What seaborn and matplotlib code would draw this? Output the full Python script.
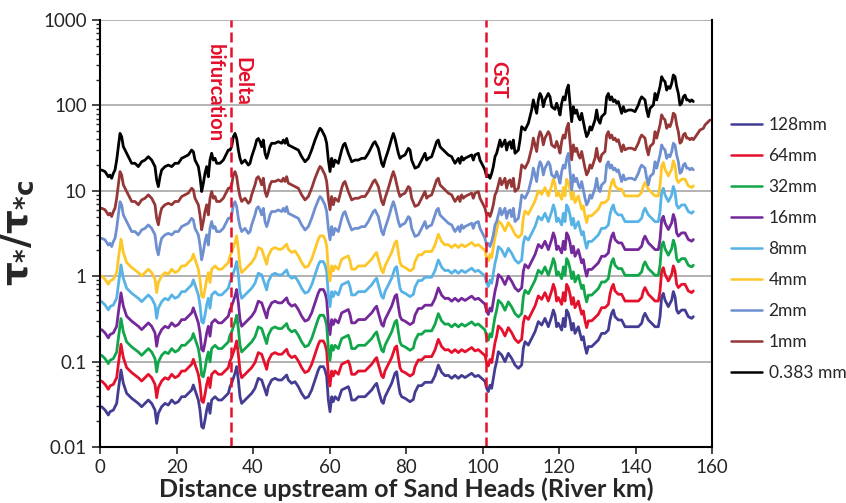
import numpy as np
import pandas as pd
import matplotlib.pyplot as plt
import seaborn as sns
from matplotlib.ticker import FixedLocator, LogLocator, NullFormatter, FuncFormatter

# 128 mm profile
km_128 = [0.44, 1.31, 2.18, 2.61, 3.49, 4.36, 4.79, 5.49, 6.10, 6.97, 8.28, 10.02, 10.89, 11.76,
          12.64, 13.51, 14.38, 14.81, 15.25, 16.12, 16.99, 17.86, 18.74, 19.61, 20.48, 21.35,
          22.22, 23.09, 23.96, 24.4, 24.84, 25.71, 26.14, 26.58, 27.01, 27.45, 27.89, 28.32,
          28.76, 29.19, 30.07, 30.94, 31.81, 32.68, 33.55, 33.99, 34.42, 35.29, 35.73, 36.17,
          36.6, 37.04, 37.91, 38.78, 39.65, 40.52, 41.39, 42.27, 43.14, 43.57, 44.0, 44.88,
          45.75, 46.62, 47.5, 48.37, 48.8, 49.24, 50.11, 50.98, 51.85, 52.72, 53.6, 54.47,
          55.34, 56.21, 57.08, 57.52, 58.39, 58.82, 59.26, 59.7, 60.13, 60.57, 61.0, 61.44,
          62.31, 63.18, 64.05, 64.92, 65.36, 65.8, 66.67, 67.54, 68.41, 69.28, 70.15, 71.02,
          71.9, 72.33, 72.77, 73.64, 74.07, 74.51, 75.38, 76.25, 77.12, 77.56, 78.0, 78.43,
          78.87, 79.74, 81.05, 81.92, 82.35, 83.22, 84.1, 84.97, 85.84, 86.71, 87.58, 88.45,
          89.32, 90.2, 91.07, 91.94, 92.81, 93.68, 94.55, 95.42, 96.3, 97.17, 98.04, 98.91,
          99.78, 100.65, 101.09, 101.52, 101.96, 102.4, 102.83, 103.27, 103.7, 104.14, 105.01,
          105.88, 106.75, 107.63, 108.5, 109.37, 110.24, 110.68, 111.11, 111.98, 112.85,
          113.73, 114.6, 115.47, 116.34, 117.21, 118.08, 118.52, 118.95, 119.39, 119.83, 120.7,
          121.13, 121.57, 122.0, 122.44, 122.88, 123.31, 123.75, 124.18, 125.05, 125.49,
          125.93, 126.36, 126.8, 127.23, 127.67, 128.54, 129.41, 130.28, 131.15, 132.03, 132.9,
          133.33, 133.77, 134.2, 134.64, 135.51, 136.38, 137.26, 138.13, 139.0, 139.87, 140.74,
          141.61, 142.05, 142.48, 143.36, 144.23, 145.1, 145.97, 146.41, 146.84, 147.28,
          147.71, 148.59, 149.46, 149.89, 150.33, 150.76, 151.2, 152.07, 152.94, 153.81,
          154.69, 155.12]
tau_128 = [0.0296, 0.0271, 0.0237, 0.0259, 0.0271, 0.0324, 0.0465, 0.0798, 0.0557, 0.0425, 0.0372,
           0.0324, 0.0296, 0.0324, 0.0355, 0.0324, 0.0271, 0.0189, 0.0248, 0.0296, 0.0324, 0.031,
           0.0355, 0.0324, 0.034, 0.0388, 0.0388, 0.0425, 0.0465, 0.0532, 0.0465, 0.0355, 0.0271,
           0.0173, 0.0166, 0.0207, 0.0271, 0.0324, 0.0248, 0.0355, 0.0388, 0.0355, 0.0355, 0.0388,
           0.0425, 0.0509, 0.0557, 0.073, 0.0873, 0.0609, 0.0388, 0.0324, 0.0355, 0.0388, 0.0425,
           0.0487, 0.0637, 0.0609, 0.0465, 0.0406, 0.0509, 0.0609, 0.0637, 0.0609, 0.0609, 0.0667,
           0.0697, 0.0609, 0.0557, 0.0582, 0.0509, 0.0425, 0.0372, 0.0388, 0.0465, 0.0609, 0.0798,
           0.0873, 0.0873, 0.0798, 0.0667, 0.0355, 0.0259, 0.0388, 0.034, 0.0388, 0.0355, 0.0465,
           0.0487, 0.0509, 0.0445, 0.0355, 0.0355, 0.0388, 0.0388, 0.0388, 0.0425, 0.0465, 0.0532,
           0.0557, 0.0465, 0.034, 0.0324, 0.0388, 0.0465, 0.0557, 0.073, 0.0762, 0.0557, 0.0425,
           0.0388, 0.0372, 0.0339, 0.036, 0.0437, 0.0523, 0.0523, 0.0572, 0.0572, 0.0572, 0.0684,
           0.0912, 0.0749, 0.0684, 0.069, 0.0637, 0.069, 0.0637, 0.069, 0.065, 0.069, 0.073,
           0.0667, 0.069, 0.0637, 0.0588, 0.0487, 0.0445, 0.053, 0.0487, 0.0637, 0.0834, 0.0998,
           0.1306, 0.1195, 0.0998, 0.125, 0.109, 0.0912, 0.0834, 0.0912, 0.143, 0.171, 0.156,
           0.187, 0.224, 0.294, 0.268, 0.321, 0.256, 0.336, 0.402, 0.352, 0.256, 0.281, 0.234,
           0.321, 0.256, 0.402, 0.368, 0.307, 0.234, 0.281, 0.214, 0.256, 0.214, 0.179, 0.196,
           0.15, 0.125, 0.15, 0.15, 0.164, 0.179, 0.214, 0.214, 0.234, 0.307, 0.368, 0.402, 0.336,
           0.307, 0.307, 0.256, 0.256, 0.256, 0.256, 0.256, 0.281, 0.336, 0.368, 0.307, 0.281,
           0.256, 0.256, 0.336, 0.575, 0.63, 0.526, 0.44, 0.526, 0.66, 0.575, 0.402, 0.368, 0.402,
           0.402, 0.336, 0.321, 0.336]

# 0.383 mm (sand) profile
km_sand = [0.44, 1.31, 2.18, 2.61, 3.05, 3.49, 3.92, 4.36, 4.79, 5.23, 5.66, 6.1, 6.54, 7.41, 8.28,
           9.15, 10.02, 10.89, 11.76, 12.64, 13.51, 14.38, 14.81, 15.25, 15.69, 16.12, 16.99,
           17.86, 18.74, 19.61, 20.48, 21.35, 22.22, 23.09, 23.96, 24.4, 24.84, 25.71, 26.14,
           26.58, 27.01, 27.45, 27.89, 28.32, 28.76, 29.19, 29.63, 30.07, 30.5, 31.37, 32.24,
           33.12, 33.55, 33.99, 34.42, 34.86, 35.29, 35.73, 36.17, 36.6, 37.04, 37.91, 38.78,
           39.22, 39.65, 40.52, 40.96, 41.39, 41.83, 42.27, 42.7, 43.14, 43.57, 44.0, 44.44,
           44.88, 45.75, 46.62, 47.5, 47.93, 48.37, 48.8, 49.24, 50.11, 50.98, 51.85, 52.72,
           53.6, 54.47, 55.34, 56.21, 57.08, 57.52, 57.95, 58.39, 58.82, 59.26, 59.7, 60.13,
           60.57, 61.0, 61.44, 62.31, 63.18, 63.62, 64.05, 64.92, 65.8, 66.67, 67.54, 68.41,
           69.28, 70.15, 71.02, 71.46, 71.9, 72.77, 73.64, 74.07, 74.51, 75.38, 76.25, 76.69,
           77.12, 78.0, 78.43, 78.87, 79.74, 80.61, 81.05, 81.48, 82.35, 83.22, 84.1, 84.53,
           84.97, 85.4, 85.84, 86.71, 87.58, 88.02, 88.45, 88.89, 89.32, 90.2, 91.07, 91.94,
           92.37, 92.81, 93.68, 94.12, 94.55, 94.99, 95.42, 96.3, 97.17, 97.6, 98.04, 98.91,
           99.35, 99.78, 100.22, 100.65, 101.09, 101.52, 101.96, 102.4, 102.83, 103.27, 103.7,
           104.14, 104.58, 105.01, 105.88, 106.32, 106.75, 107.19, 107.63, 108.06, 108.5,
           109.37, 109.8, 110.24, 111.11, 111.98, 112.85, 113.29, 113.73, 114.16, 114.6,
           115.03, 115.47, 115.9, 116.34, 117.21, 117.65, 118.08, 118.95, 119.39, 119.83,
           120.26, 120.7, 121.13, 121.57, 122.0, 122.44, 122.88, 123.31, 123.75, 124.18,
           124.62, 125.05, 125.49, 125.93, 126.8, 127.23, 127.67, 128.1, 128.54, 128.98,
           129.41, 129.85, 130.28, 130.72, 131.15, 132.03, 132.46, 132.9, 133.33, 133.77,
           134.2, 134.64, 135.08, 135.51, 136.38, 136.82, 137.26, 138.13, 139.0, 139.87,
           140.31, 140.74, 141.18, 141.61, 142.05, 142.48, 142.92, 143.36, 143.79, 144.23,
           144.67, 145.1, 145.54, 145.97, 146.41, 146.84, 147.28, 147.71, 148.15, 148.59,
           149.02, 149.46, 149.89, 150.33, 150.76, 151.2, 151.63, 152.07, 152.5, 152.94,
           153.38, 153.81, 154.25, 154.69, 155.12]
tau_sand = [17.5, 16.8, 14.6, 15.3, 14.0, 16.0, 17.5, 22.9, 32.9, 47, 43, 32.9, 30, 25.1, 21, 21,
            19.2, 21.9, 22.9, 25.1, 22.9, 19.2, 13.4, 11.2, 14.6, 17.5, 19.2, 20, 19.2, 21, 21,
            24, 25.1, 26.3, 30, 28.7, 22.9, 19.2, 14.6, 9.8, 12.2, 16, 19.2, 14.6, 22.9, 27.5,
            22.9, 24, 21, 21, 22.9, 27.5, 30, 30, 32.9, 43, 47, 41, 30, 24, 21, 22.9, 20, 21,
            25.1, 32.9, 39.3, 41, 37.6, 32.9, 39.3, 27.5, 24, 27.5, 32.9, 36, 36, 37.6, 36, 39.3,
            36, 41, 34.4, 32.9, 31.4, 30, 25.1, 21.9, 24, 30, 39.3, 49.2, 54, 51.5, 47, 43, 36,
            22.9, 16.8, 24, 19.2, 22.9, 21, 30, 34.4, 36, 27.5, 21.9, 22.9, 22.9, 24, 24, 27.5,
            32.9, 36, 37.6, 31.4, 21, 19.2, 22.9, 30, 41, 47, 41, 27.5, 24, 25.1, 26.3, 31.4, 30,
            22.9, 18.4, 19.2, 22.9, 25.1, 27.5, 22.9, 24, 25.1, 32.9, 37.6, 39.3, 32.9, 31.4,
            28.7, 26.3, 25.1, 22.9, 21, 24, 21, 25.1, 22.9, 24, 25.1, 26.3, 22.9, 26.3, 27.5,
            22.9, 21, 19.2, 17.5, 14.6, 15.3, 14, 16, 19.2, 25.1, 27.5, 32.9, 39.3, 32.9, 39.3,
            30, 36, 37.6, 31.4, 39.3, 27.5, 30, 39.3, 56.3, 51.5, 61.7, 88.3, 116, 96.6, 80.8,
            116, 138, 126, 96.6, 116, 138, 126, 96.6, 90, 106, 92.4, 77.2, 106, 126, 116, 151,
            173, 106, 64.5, 96.6, 80.8, 88.3, 73.8, 67.5, 80.8, 51.5, 43, 47, 56.3, 51.5, 59,
            67.5, 88.3, 67.5, 61.7, 73.8, 80.8, 126, 138, 116, 126, 111, 116, 106, 111, 80.8,
            96.6, 84.5, 88.3, 88.3, 84.5, 92.4, 101, 116, 126, 121, 116, 88.3, 73.8, 92.4, 96.6,
            101, 138, 116, 138, 166, 217, 198, 190, 151, 166, 158, 181, 227, 217, 166, 138, 101,
            106, 126, 132, 116, 116, 111, 116, 111]

# extra upstream reach drawn only for 1 mm
km_tail_1mm = [155.99, 156.86, 157.74, 158.17, 159.04, 159.48]
tau_tail_1mm = [45, 51.5, 53.8, 59, 64.5, 67.5]

# multipliers
coarse_sizes = ['128mm', '64mm', '32mm', '16mm', '8mm', '4mm']
coarse_factor = [1, 2, 4, 8, 17, 34]
fine_sizes = ['2mm', '1mm', '0.383 mm']
fine_factor = [1 / 6.3, 1 / 2.8, 1]

legend_order = ['128mm', '64mm', '32mm', '16mm', '8mm', '4mm', '2mm', '1mm', '0.383 mm']
colors = ['#433C93', '#E5102B', '#11A64A', '#74289A', '#57B3E6', '#FDC72A',
          '#6E8FD0', '#953736', '#000000']

frames = []
for s, f in zip(coarse_sizes, coarse_factor):
    frames.append(pd.DataFrame({'km': km_128, 'tau': np.array(tau_128) * f, 'size': s}))
for s, f in zip(fine_sizes, fine_factor):
    x = list(km_sand)
    y = list(np.array(tau_sand) * f)
    if s == '1mm':
        x += km_tail_1mm
        y += tau_tail_1mm
    frames.append(pd.DataFrame({'km': x, 'tau': y, 'size': s}))
df = pd.concat(frames, ignore_index=True)

sns.set_style('white')
plt.rcParams['font.family'] = ['Lato', 'DejaVu Sans']
plt.rcParams['mathtext.fontset'] = 'custom'
plt.rcParams['mathtext.rm'] = 'DejaVu Sans:bold'
plt.rcParams['mathtext.it'] = 'DejaVu Sans:bold'
plt.rcParams['mathtext.bf'] = 'DejaVu Sans:bold'

fig = plt.figure(figsize=(8.46, 5.03), dpi=100)
ax = fig.add_axes([100 / 846, 56 / 503, 612 / 846, 427 / 503])

sns.lineplot(data=df, x='km', y='tau', hue='size', hue_order=legend_order,
             palette=dict(zip(legend_order, colors)), estimator=None, sort=False,
             linewidth=2.0, ax=ax)

ax.set_yscale('log')
ax.set_ylim(0.01, 1000)
ax.set_xlim(0, 160)
ax.xaxis.set_major_locator(FixedLocator(range(0, 161, 20)))
ax.yaxis.set_major_locator(FixedLocator([0.01, 0.1, 1, 10, 100, 1000]))
ax.yaxis.set_major_formatter(FuncFormatter(lambda v, p: '{:g}'.format(v)))
ax.yaxis.set_minor_locator(LogLocator(base=10, subs=np.arange(2, 10)))
ax.yaxis.set_minor_formatter(NullFormatter())
ax.grid(axis='y', which='major', color='#A6A6A6', linewidth=1.2)
ax.tick_params(axis='y', which='major', direction='out', length=6, width=1.2, left=True, labelsize=13.5)
ax.tick_params(axis='y', which='minor', direction='out', length=3, width=1, left=True)
ax.tick_params(axis='x', which='major', direction='out', length=5, width=1.2, bottom=True, labelsize=13.5)
for side in ['left', 'bottom', 'right']:
    ax.spines[side].set_color('black')
    ax.spines[side].set_linewidth(1.5)
ax.spines['top'].set_visible(False)

ax.set_xlabel('Distance upstream of Sand Heads (River km)', fontsize=18, fontweight='bold', labelpad=1)
ax.set_ylabel(r'$\tau_{*}/\tau_{*c}$', fontsize=27)
ax.yaxis.set_label_coords(-0.105, 0.5)

# reach markers
red = '#E5102B'
for xv in [34.2, 100.9]:
    ax.axvline(xv, color=red, linestyle=(0, (4, 2)), linewidth=1.8)
ax.text(37.2, 1000 * 10 ** (-37 / 85.4), 'Delta', color=red, fontsize=14.5, fontweight='bold',
        rotation=270, va='top', ha='center')
ax.text(30.0, 1000 * 10 ** (-24 / 85.4), 'bifurcation', color=red, fontsize=14.5, fontweight='bold',
        rotation=270, va='top', ha='center')
ax.text(104.0, 1000 * 10 ** (-41 / 85.4), 'GST', color=red, fontsize=14.5, fontweight='bold',
        rotation=270, va='top', ha='center')

leg = ax.legend(loc='upper left', bbox_to_anchor=(1.02, 0.79), frameon=False, fontsize=12.5,
                handlelength=1.8, handletextpad=0.35, labelspacing=0.87, borderaxespad=0)
for line in leg.get_lines():
    line.set_linewidth(1.8)

fig.savefig('out.png', dpi=100)
